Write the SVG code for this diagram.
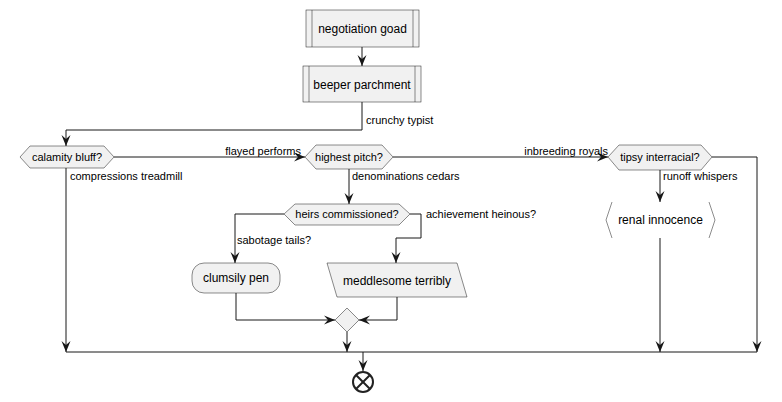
<svg xmlns="http://www.w3.org/2000/svg" width="782" height="402" viewBox="0 0 782 402">
<defs>
<marker id="ah" markerWidth="11" markerHeight="10" refX="11" refY="5" orient="auto" markerUnits="userSpaceOnUse" viewBox="0 0 11 10">
<path d="M0,0.5 L11,5 L0,9.5 L4,5 Z" fill="#181818"/>
</marker>
</defs>
<style>
.sh{fill:#F1F1F1;stroke:#181818;stroke-width:0.5}
.ln{fill:none;stroke:#181818;stroke-width:1}
.t12{font-family:"Liberation Sans",Arial,sans-serif;font-size:12px;fill:#000;text-anchor:middle}
.t11{font-family:"Liberation Sans",Arial,sans-serif;font-size:11px;fill:#000;text-anchor:middle}
.lb{font-family:"Liberation Sans",Arial,sans-serif;font-size:11px;fill:#000}
</style>
<rect width="782" height="402" fill="#FFFFFF"/>
<g id="connectors">
<path class="ln" d="M362,47 V66" marker-end="url(#ah)"/>
<path class="ln" d="M362,102 V130 H66 V146" marker-end="url(#ah)"/>
<path class="ln" d="M114,157 H305" marker-end="url(#ah)"/>
<path class="ln" d="M393,157 H608" marker-end="url(#ah)"/>
<path class="ln" d="M712,157 H757 V352" marker-end="url(#ah)"/>
<path class="ln" d="M660,170 V202" marker-end="url(#ah)"/>
<path class="ln" d="M660,238 V352" marker-end="url(#ah)"/>
<path class="ln" d="M66,168 V352" marker-end="url(#ah)"/>
<path class="ln" d="M349,169 V204" marker-end="url(#ah)"/>
<path class="ln" d="M284,214 H235 V263" marker-end="url(#ah)"/>
<path class="ln" d="M410,214 H421 V238 H396 V263" marker-end="url(#ah)"/>
<path class="ln" d="M236,293 V320 H335" marker-end="url(#ah)"/>
<path class="ln" d="M397,297 V320 H359" marker-end="url(#ah)"/>
<path class="ln" d="M347,332 V352" marker-end="url(#ah)"/>
<path class="ln" d="M66,352 H757"/>
<path class="ln" d="M363,352 V371" marker-end="url(#ah)"/>
<text class="lb" x="366" y="124">crunchy typist</text>
<text class="lb" x="301" y="155" text-anchor="end">flayed performs</text>
<text class="lb" x="70" y="180">compressions treadmill</text>
<text class="lb" x="352" y="180">denominations cedars</text>
<text class="lb" x="608" y="155" text-anchor="end">inbreeding royals</text>
<text class="lb" x="663" y="180">runoff whispers</text>
<text class="lb" x="237" y="244">sabotage tails?</text>
<text class="lb" x="426" y="218">achievement heinous?</text>
</g>
<g id="n1">
<rect class="sh" x="306" y="10" width="113" height="37"/>
<line class="sh" x1="312" y1="10" x2="312" y2="47"/>
<line class="sh" x1="413" y1="10" x2="413" y2="47"/>
<text class="t12" x="362.5" y="33">negotiation goad</text>
</g>
<g id="n2">
<rect class="sh" x="303" y="66" width="118" height="36"/>
<line class="sh" x1="309" y1="66" x2="309" y2="102"/>
<line class="sh" x1="415" y1="66" x2="415" y2="102"/>
<text class="t12" x="362" y="89">beeper parchment</text>
</g>
<g id="n3">
<polygon class="sh" points="20,157 30,146 104,146 114,157 104,168 30,168"/>
<text class="t11" x="67" y="161">calamity bluff?</text>
</g>
<g id="n4">
<polygon class="sh" points="305,157 316,145 382,145 393,157 382,169 316,169"/>
<text class="t11" x="349" y="161">highest pitch?</text>
</g>
<g id="n5">
<polygon class="sh" points="608,157 619,145 701,145 712,157 701,170 619,170"/>
<text class="t11" x="660" y="161">tipsy interracial?</text>
</g>
<g id="n6">
<polygon fill="#FFFFFF" points="606,220 612,202 709,202 715,220 709,238 612,238"/>
<polyline fill="none" stroke="#181818" stroke-width="0.5" points="612,202 606,220 612,238"/>
<polyline fill="none" stroke="#181818" stroke-width="0.5" points="709,202 715,220 709,238"/>
<text class="t12" x="660.5" y="224">renal innocence</text>
</g>
<g id="n7">
<polygon class="sh" points="284,214 295,204 399,204 410,214 399,225 295,225"/>
<text class="t11" x="347" y="218">heirs commissioned?</text>
</g>
<g id="n8">
<rect class="sh" x="192" y="263" width="88" height="30" rx="12" ry="12"/>
<text class="t12" x="236" y="282">clumsily pen</text>
</g>
<g id="n9">
<polygon class="sh" points="327,263 457,263 467,297 337,297"/>
<text class="t12" x="397" y="285">meddlesome terribly</text>
</g>
<g id="n10">
<polygon class="sh" points="347,308 359,320 347,332 335,320"/>
</g>
<g id="n11">
<circle cx="363" cy="382" r="10" fill="#FFFFFF" stroke="#222222" stroke-width="2"/>
<line x1="356" y1="375" x2="370" y2="389" stroke="#222222" stroke-width="2"/>
<line x1="370" y1="375" x2="356" y2="389" stroke="#222222" stroke-width="2"/>
</g>
</svg>
